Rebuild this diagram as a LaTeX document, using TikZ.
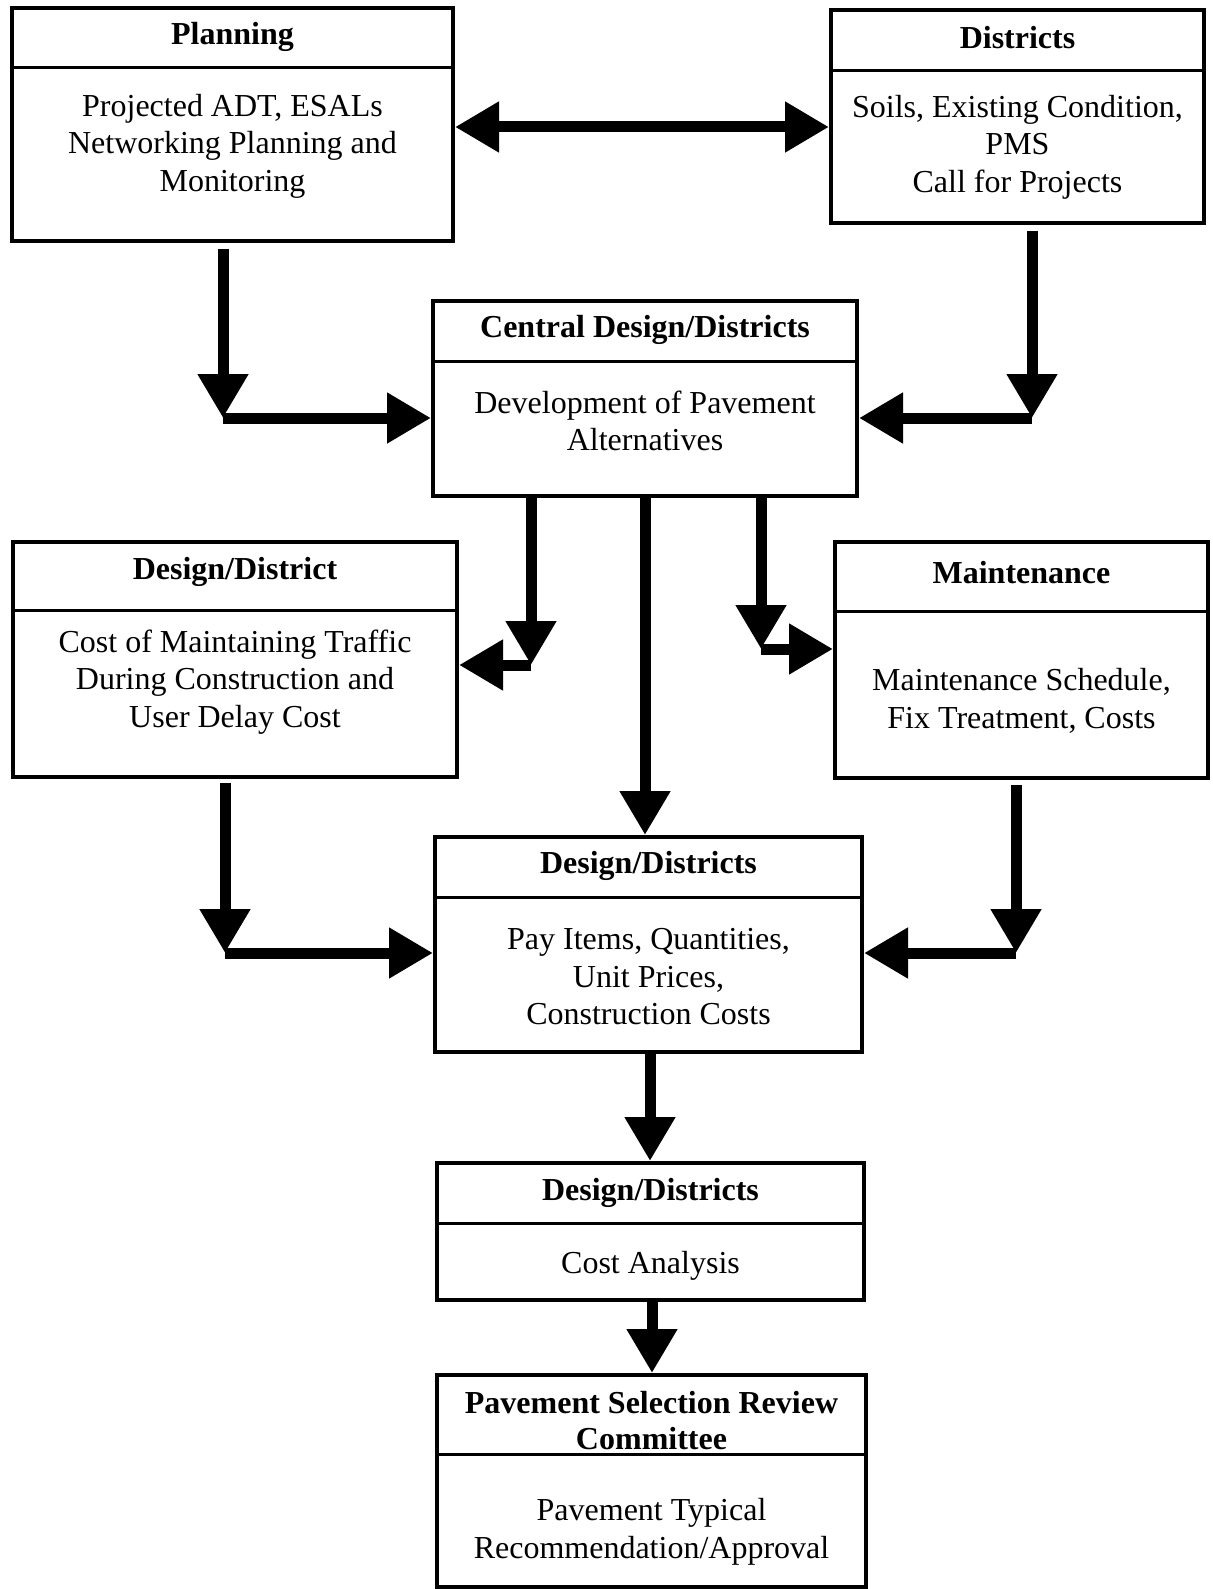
\documentclass[tikz,border=0pt]{standalone}
\usepackage{fontspec}
\setmainfont{Liberation Serif}
\usetikzlibrary{arrows.meta}
\begin{document}
\begin{tikzpicture}[x=1pt,y=-1pt,
  box/.style={draw=black, line width=4pt, inner sep=0pt},
  divider/.style={draw=black, line width=3pt},
  ttl/.style={font=\fontsize{32}{36}\selectfont\bfseries, align=center, inner sep=0pt},
  body/.style={font=\fontsize{32}{37.5}\selectfont, align=center, inner sep=0pt},
  arr/.style={draw=black, line width=11pt, -{Triangle[length=44pt,width=48pt]}},
  dblarr/.style={draw=black, line width=11pt, {Triangle[length=44pt,width=48pt]}-{Triangle[length=44pt,width=48pt]}}]

% page frame
\useasboundingbox (0,0) rectangle (1212,1589);

% ---- boxes ----
\node[box, minimum width=441pt, minimum height=233pt] (plan) at (232.5,124.5) {};
\node[box, minimum width=373pt, minimum height=213pt] (dist) at (1017.5,116.5) {};
\node[box, minimum width=424pt, minimum height=195pt] (cent) at (645,398.5) {};
\node[box, minimum width=444pt, minimum height=235pt] (dd) at (235,659.5) {};
\node[box, minimum width=373pt, minimum height=236pt] (mnt) at (1021.5,660) {};
\node[box, minimum width=427pt, minimum height=215pt] (pay) at (648.5,944.5) {};
\node[box, minimum width=427pt, minimum height=137pt] (cost) at (650.5,1231.5) {};
\node[box, minimum width=429pt, minimum height=212pt] (psr) at (651.5,1481) {};

% ---- header dividers ----
\draw[divider] (plan.west |- 0,68) -- (plan.east |- 0,68);
\draw[divider] (dist.west |- 0,71) -- (dist.east |- 0,71);
\draw[divider] (cent.west |- 0,361) -- (cent.east |- 0,361);
\draw[divider] (dd.west |- 0,610) -- (dd.east |- 0,610);
\draw[divider] (mnt.west |- 0,611) -- (mnt.east |- 0,611);
\draw[divider] (pay.west |- 0,897) -- (pay.east |- 0,897);
\draw[divider] (cost.west |- 0,1223) -- (cost.east |- 0,1223);
\draw[divider] (psr.west |- 0,1454) -- (psr.east |- 0,1454);

% ---- texts ----
\node[ttl] (plan-t) at (232.5,37) {Planning};
\node[body] (plan-b) at (232.5,146) {Projected ADT, ESALs\\Networking Planning and\\Monitoring};

\node[ttl] (dist-t) at (1017.5,38) {Districts};
\node[body] (dist-b) at (1017.5,147) {Soils, Existing Condition,\\PMS\\Call for Projects};

\node[ttl] (cent-t) at (645,330) {Central Design/Districts};
\node[body] (cent-b) at (645,421) {Development of Pavement\\Alternatives};

\node[ttl] (dd-t) at (235,572) {Design/District};
\node[body] (dd-b) at (235,682) {Cost of Maintaining Traffic\\During Construction and\\User Delay Cost};

\node[ttl] (mnt-t) at (1021.5,573) {Maintenance};
\node[body] (mnt-b) at (1021.5,701) {Maintenance Schedule,\\Fix Treatment, Costs};

\node[ttl] (pay-t) at (648.5,866) {Design/Districts};
\node[body] (pay-b) at (648.5,977) {Pay Items, Quantities,\\Unit Prices,\\Construction Costs};

\node[ttl] (cost-t) at (650.5,1193) {Design/Districts};
\node[body] (cost-b) at (650.5,1266) {Cost Analysis};

\node[ttl] (psr-t) at (651.5,1421) {Pavement Selection Review\\Committee};
\node[body] (psr-b) at (651.5,1532) {Pavement Typical\\Recommendation/Approval};

% ---- connectors ----
\coordinate (pc) at (223,418);
\coordinate (dc) at (1032,418);
\coordinate (lc) at (531,665);
\coordinate (rc) at (761,649);
\coordinate (mx) at (645,0);
\coordinate (bl) at (225,953);
\coordinate (br) at (1016,953);
\coordinate (ya) at (0,127);

\draw[dblarr] (plan.east |- ya) -- (dist.west |- ya);

\draw[arr, shorten <=6pt] (plan.south -| pc) -- (pc);
\draw[arr] (pc) -- (cent.west |- pc);
\draw[arr, shorten <=6pt] (dist.south -| dc) -- (dc);
\draw[arr] (dc) -- (cent.east |- dc);

\draw[arr] (cent.south -| lc) -- (lc);
\draw[arr] (lc) -- (dd.east |- lc);
\draw[arr] (cent.south -| rc) -- (rc);
\draw[arr] (rc) -- (mnt.west |- rc);
\draw[arr] (cent.south -| mx) -- (pay.north -| mx);

\draw[arr, shorten <=4pt] (dd.south -| bl) -- (bl);
\draw[arr] (bl) -- (pay.west |- bl);
\draw[arr, shorten <=5pt] (mnt.south -| br) -- (br);
\draw[arr] (br) -- (pay.east |- br);

\draw[arr] (pay.south -| 650,0) -- (cost.north -| 650,0);
\draw[arr] (cost.south -| 652,0) -- (psr.north -| 652,0);
\end{tikzpicture}
\end{document}
